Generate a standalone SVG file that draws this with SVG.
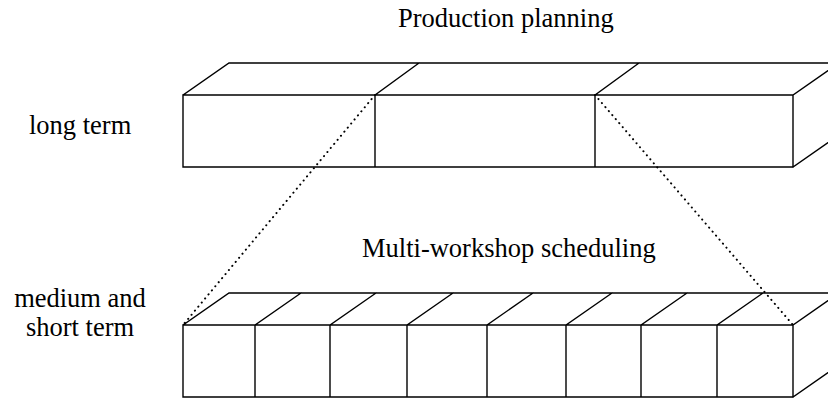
<svg xmlns="http://www.w3.org/2000/svg" width="828" height="401" viewBox="0 0 828 401">
<style>
.e{fill:none;stroke:#000;stroke-width:1.4;stroke-linecap:square}
.d{fill:none;stroke:#000;stroke-width:2;stroke-dasharray:0.1 5.2;stroke-linecap:round}
text{font-family:"Liberation Serif","Times New Roman",serif;font-size:26.5px;fill:#000}
</style>
<rect width="828" height="401" fill="#fff"/>
<g id="long-term-box">
<path class="e" d="M183,95H793V167H183Z M375,95V167 M595,95V167 M183,95L229,63H839 M375,95L419,63 M595,95L639,63 M793,95L839,63 M793,167L839,135"/>
</g>
<g id="short-term-box">
<path class="e" d="M183,325H793V397H183Z M255,325V397 M330,325V397 M407,325V397 M487,325V397 M566,325V397 M641,325V397 M717,325V397 M183,325L229,293H839 M255,325L301,293 M330,325L376,293 M407,325L453,293 M487,325L533,293 M566,325L612,293 M641,325L687,293 M717,325L763,293 M793,325L839,293 M793,397L839,365"/>
</g>
<g id="connectors">
<path class="d" d="M375,95L183,325"/>
<path class="d" d="M595,95L793,325"/>
</g>
<g id="labels">
<text x="398" y="27">Production planning</text>
<text x="29" y="134">long term</text>
<text x="362" y="257">Multi-workshop scheduling</text>
<text x="80" y="307" text-anchor="middle">medium and</text>
<text x="80" y="336" text-anchor="middle">short term</text>
</g>
</svg>
